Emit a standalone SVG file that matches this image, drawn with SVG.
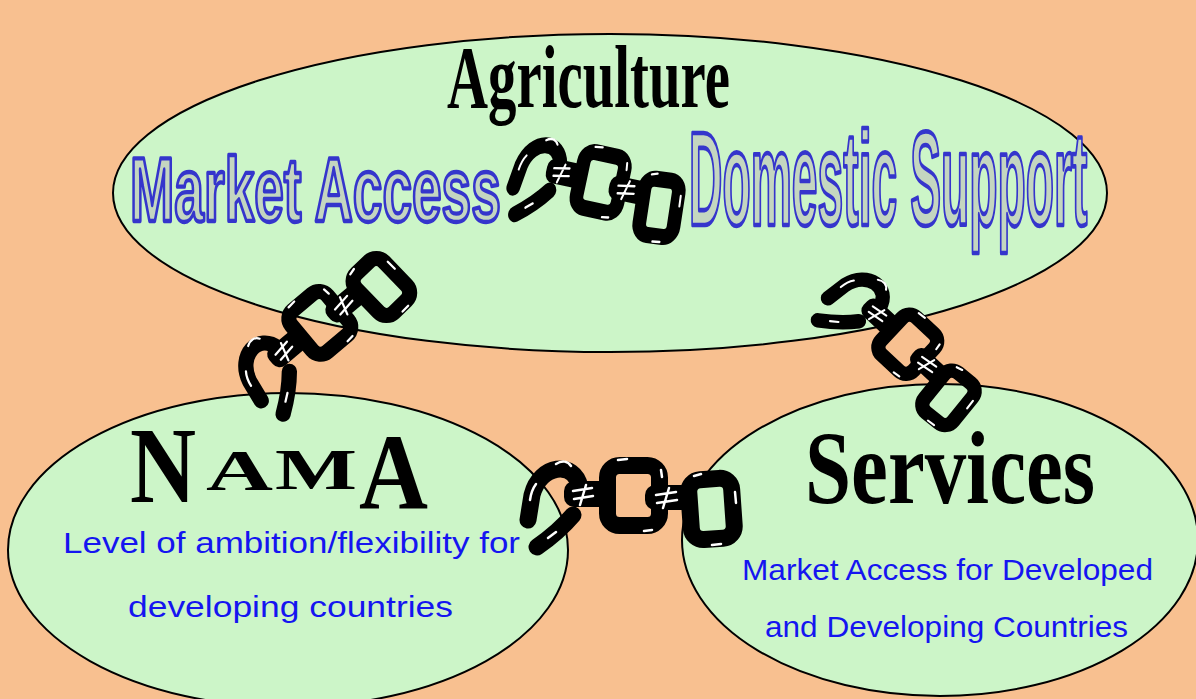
<svg xmlns="http://www.w3.org/2000/svg" xmlns:xlink="http://www.w3.org/1999/xlink" width="1196" height="699" viewBox="0 0 1196 699">
<style>
.bubble{fill:#ccf5c8;stroke:#000;stroke-width:2}
.title{font-family:"Liberation Serif","DejaVu Serif",serif;font-weight:bold;fill:#000}
.art{font-family:"Liberation Sans",Arial,sans-serif;font-weight:bold;fill:#c4d6c0;stroke:#3535cc;stroke-width:3.5;stroke-linejoin:round}
.sub{font-family:"Liberation Sans",Arial,sans-serif;font-size:30px;fill:#1515f0}
.blk{fill:none;stroke:#000;stroke-width:17;stroke-linecap:round;stroke-linejoin:round}
.hl{fill:none;stroke:#fff;stroke-width:2.5;stroke-linecap:round}
</style>
<defs>
<g id="chain">
  <path class="blk" d="M -50,-13 C -56,-40 -90,-36 -98,-5 L -102,20"/>
  <path class="blk" d="M -57,15 C -68,28 -80,38 -93,47"/>
  <rect class="blk" x="-22.5" y="-34.5" width="52" height="60" rx="12"/>
  <rect class="blk" x="60" y="-21" width="43" height="60" rx="12" transform="rotate(-4 81 9)"/>
  <rect x="-66" y="-19" width="50" height="26" rx="10" fill="#000"/>
  <rect x="15" y="-15" width="49" height="25" rx="10" fill="#000"/>
  <path class="hl" d="M -74,-36 C -68,-40 -62,-39 -59,-34"/>
  <path class="hl" d="M -100,0 C -99,-7 -97,-12 -94,-16"/>
  <path class="hl" d="M -74,32 L -82,38"/>
  <path class="hl" d="M -57,-9 L -38,-12 M -56,-1 L -37,-4 M -50,5 L -44,-15"/>
  <path class="hl" d="M -12,-40 L -3,-41 M 14,31 L 22,30 M 31,-30 L 32,-23"/>
  <path class="hl" d="M 26,-5 L 46,-8 M 27,3 L 47,0 M 33,8 L 39,-12"/>
  <path class="hl" d="M 64,-24 L 71,-26 M 105,-8 L 106,3 M 82,45 L 91,44"/>
</g>
</defs>
<rect x="0" y="0" width="1196" height="699" fill="#f8c090"/>
<g id="node-agriculture">
  <ellipse class="bubble" cx="610" cy="193" rx="497" ry="159"/>
  <text class="title" x="447" y="107" font-size="88" textLength="283" lengthAdjust="spacingAndGlyphs">Agriculture</text>
  <text class="art" transform="translate(130,221) scale(0.585,1)" font-size="91" vector-effect="non-scaling-stroke">Market Access</text>
  <text class="art" transform="translate(689,225) scale(0.348,1)" font-size="133" vector-effect="non-scaling-stroke">Domestic Support</text>
</g>
<g id="node-nama">
  <ellipse class="bubble" cx="288" cy="550" rx="280" ry="157"/>
  <text class="title"><tspan x="130" y="502" font-size="109" textLength="66" lengthAdjust="spacingAndGlyphs">N</tspan><tspan x="206" y="490" font-size="57" textLength="67" lengthAdjust="spacingAndGlyphs">A</tspan><tspan x="275" y="489" font-size="57" textLength="82" lengthAdjust="spacingAndGlyphs">M</tspan><tspan x="359" y="509" font-size="107" textLength="69" lengthAdjust="spacingAndGlyphs">A</tspan></text>
  <text class="sub" x="63" y="553" textLength="457" lengthAdjust="spacingAndGlyphs">Level of ambition/flexibility for</text>
  <text class="sub" x="128" y="617" textLength="325" lengthAdjust="spacingAndGlyphs">developing countries</text>
</g>
<g id="node-services">
  <ellipse class="bubble" cx="940" cy="540" rx="258" ry="156"/>
  <text class="title" x="805" y="503" font-size="104" textLength="290" lengthAdjust="spacingAndGlyphs">Services</text>
  <text class="sub" x="742" y="580" textLength="411" lengthAdjust="spacingAndGlyphs">Market Access for Developed</text>
  <text class="sub" x="765" y="637" textLength="363" lengthAdjust="spacingAndGlyphs">and Developing Countries</text>
</g>
<g id="connectors">
  <use xlink:href="#chain" href="#chain" transform="translate(597,186) rotate(12) scale(0.8,0.95)"/>
  <use xlink:href="#chain" href="#chain" transform="translate(320,328) rotate(-40) scale(0.9)"/>
  <use xlink:href="#chain" href="#chain" transform="translate(903,345) rotate(43) scale(0.85)"/>
  <use xlink:href="#chain" href="#chain" transform="translate(630,500)"/>
</g>
</svg>
